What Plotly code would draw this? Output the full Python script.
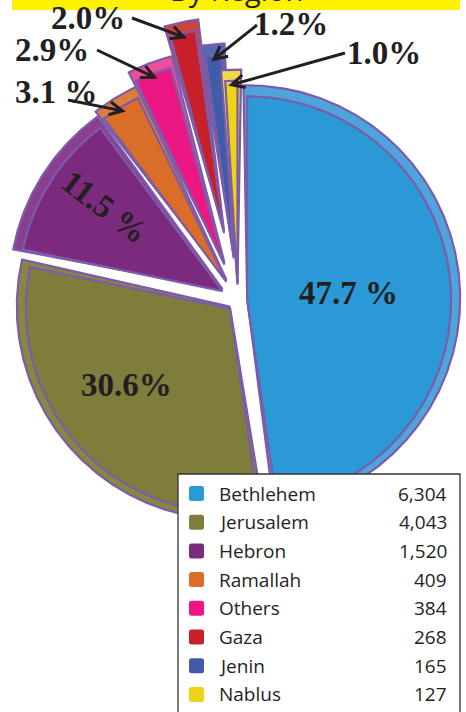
import numpy as np
import plotly.graph_objects as go

# ---------------- data ----------------
regions = ["Bethlehem", "Jerusalem", "Hebron", "Ramallah", "Others", "Gaza", "Jenin", "Nablus"]
counts = [6304, 4043, 1520, 409, 384, 268, 165, 127]
count_labels = ["6,304", "4,043", "1,520", "409", "384", "268", "165", "127"]
pct_labels = ["47.7 %", "30.6%", "11.5 %", "3.1 %", "2.9%", "2.0%", "1.2%", "1.0%"]
title_text = "By Region"

# ---------------- style ----------------
face_colors = ["#2A99D5", "#7F7D3C", "#7B2A7E", "#DA6D28", "#EC1783", "#C8202B", "#405BA8", "#EDD516"]
rim_colors = ["#4EA5DC", "#88873F", "#8A3E8D", "#DE7C3B", "#EF4C9A", "#D1413C", "#5468B3", "#EEDA48"]
pulls = [0.045, 0.055, 0.09, 0.11, 0.19, 0.34, 0.21, 0.08]
OUTLINE = "#7C5CAA"
TXT = "#231F20"
W, H = 466, 712
CX, CY = 238.0, 301.0
R = 204.0
RIM_R = 9.0      # radial rim thickness
RIM_S = 3.5      # rim thickness along straight edges (at outer end)
SHX, SHY = 0.0, -2.0
SERIF = "Liberation Serif, Times New Roman, serif"
SANS = "Open Sans, Noto Sans, sans-serif"

total = float(sum(counts))
frac = np.array(counts, dtype=float) / total
ends = np.cumsum(frac) * 360.0
starts = ends - frac * 360.0
mids = (starts + ends) / 2.0


def dirv(deg):
    t = np.radians(deg)
    return np.sin(t), -np.cos(t)


def wedge(ax, ay, r, a0, a1):
    n = max(10, int((a1 - a0) * 2))
    th = np.linspace(a0, a1, n)
    dx, dy = dirv(th)
    xs = np.concatenate([[ax], ax + r * dx, [ax]])
    ys = np.concatenate([[ay], ay + r * dy, [ay]])
    return xs, ys


fig = go.Figure()
apexes = []
for i in range(len(counts)):
    ux, uy = dirv(mids[i])
    ax, ay = CX + pulls[i] * R * ux, CY + pulls[i] * R * uy
    apexes.append((ax, ay))
    d = np.degrees(RIM_S / R)
    rx, ry = wedge(ax + SHX, ay + SHY, R + RIM_R, starts[i] - d, ends[i] + d)
    fig.add_trace(go.Scatter(x=rx, y=ry, mode="lines", fill="toself",
                             fillcolor=rim_colors[i], line=dict(color=OUTLINE, width=2.2),
                             hoverinfo="skip", showlegend=False))
    fx, fy = wedge(ax, ay, R, starts[i], ends[i])
    fig.add_trace(go.Scatter(x=fx, y=fy, mode="lines", fill="toself",
                             fillcolor=face_colors[i], line=dict(color=OUTLINE, width=2.2),
                             hoverinfo="skip", showlegend=False, name=regions[i]))

annotations = []
shapes = []

# title band (cropped at the top)
shapes.append(dict(type="rect", xref="x", yref="y", x0=12, x1=460, y0=-30, y1=10,
                   fillcolor="#FFF200", line=dict(width=0), layer="above"))
annotations.append(dict(x=236, y=1, xref="x", yref="paper", text=title_text, showarrow=False,
                        xanchor="center", yanchor="middle", yshift=11,
                        font=dict(family=SANS, size=29, color=TXT)))

# inside labels: (fraction of radius, angular offset, text angle)
inside = {0: (0.50, 0, 0), 1: (0.63, 7, 0), 2: (0.71, 3, 37)}
for i, (k, da, ang) in inside.items():
    ux, uy = dirv(mids[i] + da)
    ax, ay = apexes[i]
    annotations.append(dict(x=ax + k * R * ux, y=ay + k * R * uy, xref="x", yref="y",
                            text="<b>%s</b>" % pct_labels[i], showarrow=False, textangle=ang,
                            xanchor="center", yanchor="middle",
                            font=dict(family=SERIF, size=33, color=TXT)))

# outside labels with arrows
label_pos = {3: (56, 92), 4: (52, 50), 5: (88, 18), 6: (291, 24), 7: (384, 53)}
tails = {3: (68, 100), 4: (97, 50), 5: (132, 18), 6: (257, 25), 7: (345, 53)}
for i, (lx, ly) in label_pos.items():
    annotations.append(dict(x=lx, y=ly, xref="x", yref="y", text="<b>%s</b>" % pct_labels[i],
                            showarrow=False, xanchor="center", yanchor="middle",
                            font=dict(family=SERIF, size=33, color=TXT)))
    ux, uy = dirv(mids[i])
    ax, ay = apexes[i]
    hx, hy = ax + (R - 4) * ux, ay + (R - 4) * uy
    tx, ty = tails[i]
    vx, vy = hx - tx, hy - ty
    L = np.hypot(vx, vy)
    vx, vy = vx / L, vy / L
    px, py = -vy, vx
    wl, ww = 13.0, 6.5
    w1 = (hx - wl * vx + ww * px, hy - wl * vy + ww * py)
    w2 = (hx - wl * vx - ww * px, hy - wl * vy - ww * py)
    path = "M %.1f %.1f L %.1f %.1f M %.1f %.1f L %.1f %.1f L %.1f %.1f" % (
        tx, ty, hx, hy, w1[0], w1[1], hx, hy, w2[0], w2[1])
    shapes.append(dict(type="path", xref="x", yref="y", path=path,
                       line=dict(color=TXT, width=3), layer="above"))

# legend box
shapes.append(dict(type="rect", xref="x", yref="y", x0=178, x1=460, y0=474, y1=740,
                   fillcolor="white", line=dict(color="#333333", width=1.3), layer="above"))
row0, step = 493.5, 28.7
for i in range(len(regions)):
    yc = row0 + i * step
    x0, x1, y0, y1, rr = 189, 204, yc - 7.5, yc + 7.5, 2.5
    p = ("M %.1f %.1f L %.1f %.1f Q %.1f %.1f %.1f %.1f L %.1f %.1f Q %.1f %.1f %.1f %.1f "
         "L %.1f %.1f Q %.1f %.1f %.1f %.1f L %.1f %.1f Q %.1f %.1f %.1f %.1f Z") % (
        x0 + rr, y0, x1 - rr, y0, x1, y0, x1, y0 + rr, x1, y1 - rr, x1, y1, x1 - rr, y1,
        x0 + rr, y1, x0, y1, x0, y1 - rr, x0, y0 + rr, x0, y0, x0 + rr, y0)
    shapes.append(dict(type="path", xref="x", yref="y", path=p, fillcolor=face_colors[i],
                       line=dict(width=0), layer="above"))
    annotations.append(dict(x=217, y=yc, xref="x", yref="y", text=regions[i], showarrow=False,
                            xanchor="left", yanchor="middle",
                            font=dict(family=SANS, size=19, color=TXT)))
    annotations.append(dict(x=449, y=yc, xref="x", yref="y", text=count_labels[i], showarrow=False,
                            xanchor="right", yanchor="middle",
                            font=dict(family=SANS, size=19, color=TXT)))

fig.update_layout(
    width=W, height=H, margin=dict(l=0, r=0, t=0, b=0),
    paper_bgcolor="white", plot_bgcolor="white",
    xaxis=dict(range=[0, W], visible=False, fixedrange=True),
    yaxis=dict(range=[H, 0], visible=False, fixedrange=True),
    shapes=shapes, annotations=annotations, showlegend=False,
)
fig.write_html("out.html", config={"displayModeBar": False},
               post_script="document.body.style.margin='0';document.body.style.overflow='hidden';")
